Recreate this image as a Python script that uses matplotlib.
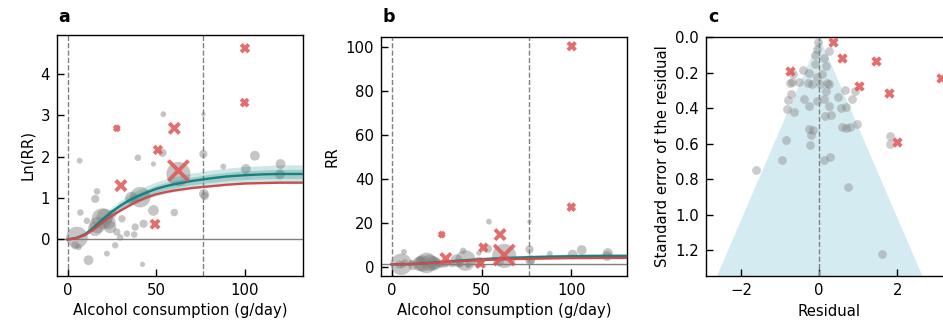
import numpy as np
import matplotlib
matplotlib.use("Agg")
import matplotlib.pyplot as plt

# ---- dose-response curves (ln scale) ----
dose = [0, 5, 10, 15, 20, 25, 30, 35, 40, 45, 50, 55, 60, 65, 70, 75, 80, 90, 100, 110, 120, 133]
teal_fit = [0, 0.04, 0.13, 0.30, 0.49, 0.67, 0.82, 0.95, 1.05, 1.14, 1.22, 1.28, 1.33, 1.37,
            1.41, 1.44, 1.47, 1.52, 1.55, 1.57, 1.58, 1.58]
red_fit = [0, 0.03, 0.11, 0.25, 0.42, 0.57, 0.70, 0.82, 0.93, 1.02, 1.09, 1.14, 1.18, 1.21,
           1.24, 1.26, 1.28, 1.32, 1.35, 1.36, 1.37, 1.37]
outer_hw = [0, 0.01, 0.03, 0.06, 0.09, 0.11, 0.13, 0.14, 0.15, 0.16, 0.17, 0.17, 0.18, 0.18,
            0.19, 0.19, 0.20, 0.20, 0.21, 0.21, 0.22, 0.22]
inner_hw = [0, 0.005, 0.015, 0.03, 0.045, 0.055, 0.065, 0.07, 0.075, 0.08, 0.085, 0.085, 0.09,
            0.09, 0.095, 0.095, 0.10, 0.10, 0.105, 0.105, 0.11, 0.11]

# ---- observations (gray), marker area ~ study weight ----
obs_x = [5.3, 6.8, 16.6, 15.6, 7.2, 10.9, 15.6, 19.4, 23.0, 25.4, 27.8, 29.7, 26.9, 22.2, 11.8,
         4.3, 6.2, 30.7, 33.5, 37.6, 38.2, 41.0, 42.9, 42.3, 48.5, 48.5, 60.3, 39.7, 54.1, 53.6,
         62.6, 76.7, 77.0, 77.5, 88.0, 100.7, 105.8, 120.3, 120.0, 76.7, 17.0, 21.0, 36.0, 24.0]
obs_y = [0.05, 1.90, 1.16, 0.98, 0.65, 0.45, 0.26, 0.50, 0.42, 0.62, 0.18, 0.05, -0.14, -0.34, -0.50,
         -0.14, -0.18, 0.50, 0.14, 0.12, 0.30, 1.02, 0.38, -0.60, 0.70, 1.82, 0.65, 1.97, 3.02, 2.09,
         1.58, 2.06, 1.10, 1.05, 1.76, 1.70, 2.02, 1.82, 1.57, 3.02, 0.35, 0.55, 1.00, 0.30]
obs_size = [240, 18, 22, 35, 22, 22, 110, 220, 110, 35, 28, 22, 22, 18, 50,
            35, 22, 28, 22, 22, 28, 220, 35, 14, 60, 14, 30, 22, 18, 35,
            300, 35, 50, 35, 18, 50, 50, 50, 50, 10, 140, 140, 80, 80]

# ---- outliers (red) ----
out_x = [100.2, 100.0, 27.8, 60.3, 51.0, 30.1, 62.6, 49.4]
out_y = [4.61, 3.30, 2.68, 2.68, 2.16, 1.30, 1.66, 0.37]
out_size = [30, 25, 14, 55, 30, 55, 210, 35]

# ---- funnel plot (panel c) ----
res_x = [-0.02, -0.06, 0.24, -0.10, 0.11, -0.10, 0.18, -0.42, -0.27, -0.66, 0.07, -0.06, -0.70,
         -0.53, -0.76, -0.30, -0.19, 0.21, 0.26, 0.03, 0.18, 0.65, 0.92, -0.73, -0.79, -0.38,
         -0.06, 0.11, 0.47, 0.85, -0.83, -0.64, -0.27, 0.26, 0.56, 0.69, 0.14, 0.30, 0.58, 0.69,
         0.79, 0.97, -0.25, -0.15, -0.21, -0.85, -0.23, 1.82, 1.82, -0.96, 0.28, -1.62, 0.11,
         0.73, 1.62]
res_se = [0.028, 0.065, 0.079, 0.103, 0.12, 0.15, 0.165, 0.184, 0.20, 0.206, 0.206, 0.225, 0.253,
          0.253, 0.259, 0.259, 0.262, 0.259, 0.262, 0.262, 0.304, 0.30, 0.304, 0.318, 0.352, 0.35,
          0.36, 0.347, 0.337, 0.35, 0.407, 0.42, 0.39, 0.39, 0.40, 0.395, 0.446, 0.437, 0.506, 0.51,
          0.506, 0.487, 0.515, 0.525, 0.553, 0.577, 0.605, 0.558, 0.60, 0.69, 0.675, 0.75, 0.694,
          0.844, 1.222]
res_out_x = [0.35, 0.59, 1.45, -0.74, 1.02, 1.79, 1.99, 3.12]
res_out_se = [0.028, 0.118, 0.135, 0.191, 0.277, 0.317, 0.59, 0.23]
funnel_se = [0, 1.4]
z_crit = 1.96

plt.rcParams['font.size'] = 10.7
TEAL = '#15827f'
RED = '#cc4b4b'
OUT = '#e05555'
GRAY = 'gray'

fig = plt.figure(figsize=(9.43, 3.28), dpi=100)
W, H = 943, 328


def axes_at(left, top, right, bottom):
    return fig.add_axes([left / W, 1 - bottom / H, (right - left) / W, (bottom - top) / H])


def style(ax):
    ax.tick_params(direction='in', length=5, width=1, colors='black', labelsize=10.7, pad=5)
    for s in ax.spines.values():
        s.set_linewidth(1)


dose_a = np.array(dose)
teal_a = np.array(teal_fit)
red_a = np.array(red_fit)
o_hw = np.array(outer_hw)
i_hw = np.array(inner_hw)

# panel a
ax1 = axes_at(57, 35, 303, 276)
ax1.axhline(0, color='gray', lw=1, zorder=1)
for v in [0, 76.5]:
    ax1.axvline(v, color='gray', ls='--', lw=1, zorder=1)
ax1.scatter(obs_x, obs_y, s=obs_size, color=GRAY, alpha=0.45, lw=0, zorder=2)
ax1.fill_between(dose_a, teal_a - o_hw, teal_a + o_hw, color=TEAL, alpha=0.2, lw=0, zorder=3)
ax1.fill_between(dose_a, teal_a - i_hw, teal_a + i_hw, color=TEAL, alpha=0.25, lw=0, zorder=3)
ax1.plot(dose_a, teal_a, color=TEAL, lw=1.7, zorder=4)
ax1.plot(dose_a, red_a, color=RED, lw=1.7, zorder=4)
ax1.scatter(out_x, out_y, s=out_size, marker='x', color=OUT, alpha=0.85, linewidths=2.8, zorder=5)
ax1.set_xlim(-6, 133)
ax1.set_ylim(-0.88, 4.93)
ax1.set_xticks([0, 50, 100])
ax1.set_yticks([0, 1, 2, 3, 4])
ax1.set_xlabel('Alcohol consumption (g/day)')
ax1.set_ylabel('Ln(RR)')
style(ax1)

# panel b (same data on the RR scale)
ax2 = axes_at(381, 37, 627, 276)
ax2.axhline(1, color='gray', lw=1, zorder=1)
for v in [0, 76.5]:
    ax2.axvline(v, color='gray', ls='--', lw=1, zorder=1)
ax2.scatter(obs_x, np.exp(obs_y), s=obs_size, color=GRAY, alpha=0.45, lw=0, zorder=2)
ax2.fill_between(dose_a, np.exp(teal_a - o_hw), np.exp(teal_a + o_hw), color=TEAL, alpha=0.2, lw=0, zorder=3)
ax2.fill_between(dose_a, np.exp(teal_a - i_hw), np.exp(teal_a + i_hw), color=TEAL, alpha=0.25, lw=0, zorder=3)
ax2.plot(dose_a, np.exp(teal_a), color=TEAL, lw=1.7, zorder=4)
ax2.plot(dose_a, np.exp(red_a), color=RED, lw=1.7, zorder=4)
ax2.scatter(out_x, np.exp(out_y), s=out_size, marker='x', color=OUT, alpha=0.85, linewidths=2.8, zorder=5)
ax2.set_xlim(-6, 131)
ax2.set_ylim(-4.3, 104.7)
ax2.set_xticks([0, 50, 100])
ax2.set_yticks([0, 20, 40, 60, 80, 100])
ax2.set_xlabel('Alcohol consumption (g/day)')
ax2.set_ylabel('RR')
style(ax2)

# panel c: funnel
ax3 = axes_at(706, 37, 952, 276)
se = np.array(funnel_se)
ax3.fill_betweenx(se, -z_crit * se, z_crit * se, color='lightblue', alpha=0.5, lw=0, zorder=1)
ax3.axvline(0, color='gray', ls='--', lw=1, zorder=2)
ax3.scatter(res_x, res_se, s=40, color=GRAY, alpha=0.4, lw=0, zorder=3)
ax3.scatter(res_out_x, res_out_se, s=30, marker='x', color=OUT, alpha=0.85, linewidths=2.8, zorder=4)
ax3.set_xlim(-2.9, 3.4)
ax3.set_ylim(1.345, 0)
ax3.set_xticks([-2, 0, 2])
ax3.set_yticks([0.0, 0.2, 0.4, 0.6, 0.8, 1.0, 1.2])
ax3.set_xlabel('Residual')
ax3.set_ylabel('Standard error of the residual')
style(ax3)

for lbl, px in [('a', 58), ('b', 383), ('c', 708)]:
    fig.text(px / W, 1 - 17 / H, lbl, fontsize=12.5, fontweight='bold', va='center', ha='left')

fig.savefig('out.png', dpi=100)
